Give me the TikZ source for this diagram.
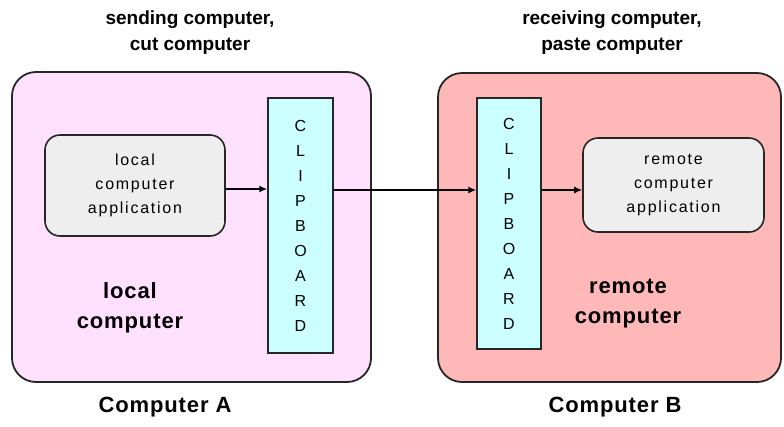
\documentclass[tikz,border=0pt]{standalone}
\usepackage{fontspec}
\setmainfont{Liberation Sans}
\newfontfamily\spacedfont[LetterSpace=11]{Liberation Sans}
\newfontfamily\boldspaced[LetterSpace=4]{Liberation Sans Bold}
\usetikzlibrary{arrows.meta}
\definecolor{pinkA}{HTML}{FFE0FF}
\definecolor{redB}{HTML}{FFB8B8}
\definecolor{clipc}{HTML}{CCFFFF}
\definecolor{appc}{HTML}{EEEEEE}
\tikzset{
  bigbox/.style={draw=black!85, line width=1.8pt, rounded corners=24pt, inner sep=0pt},
  clipbox/.style={draw=black!85, line width=1.5pt, fill=clipc, inner sep=0pt,
     font=\fontsize{16}{25}\selectfont, align=center},
  appbox/.style={draw=black!85, line width=1.6pt, fill=appc, rounded corners=15pt, inner sep=0pt,
     font=\spacedfont\fontsize{16}{24}\selectfont, align=center},
  lbl/.style={font=\bfseries\fontsize{19}{26}\selectfont, align=center},
  biglbl/.style={font=\boldspaced\fontsize{22}{30}\selectfont, align=center},
  arr/.style={line width=1.8pt, -{Latex[length=8pt,width=7pt]}},
}
\begin{document}
\begin{tikzpicture}[x=1pt,y=-1pt]
\useasboundingbox[fill=white] (0,0) rectangle (784,426);
\node[bigbox, fill=pinkA, minimum width=359pt, minimum height=310pt] (boxA) at (191.5,227) {};
\node[bigbox, fill=redB, minimum width=343pt, minimum height=309pt] (boxB) at (609.5,227.5) {};
\node[clipbox, minimum width=65pt, minimum height=255pt] (lclip) at (300.5,225.5) {C\\L\\I\\P\\B\\O\\A\\R\\D};
\node[clipbox, minimum width=64pt, minimum height=251pt] (rclip) at (509,223.5) {C\\L\\I\\P\\B\\O\\A\\R\\D};
\node[appbox, minimum width=180pt, minimum height=101pt] (lapp) at (135,185.5) {local\\computer\\application};
\node[appbox, minimum width=181pt, minimum height=94pt] (rapp) at (673.5,185) {remote\\computer\\application};
\node[biglbl] (lcomp) at (130,308) {local\\computer};
\node[biglbl] (rcomp) at (628,304) {remote\\computer};
\node[lbl] (topA) at (190,33) {sending computer,\\cut computer};
\node[lbl] (topB) at (612,33) {receiving computer,\\paste computer};
\node[biglbl] (botA) at (165,407) {Computer A};
\node[biglbl] (botB) at (615,407) {Computer B};
\draw[arr] (lapp.east |- 0,189) -- (lclip.west |- 0,189);
\draw[arr] (lclip.east |- 0,190) -- (rclip.west |- 0,190);
\draw[arr] (rclip.east |- 0,190) -- (rapp.west |- 0,190);
\end{tikzpicture}
\end{document}
